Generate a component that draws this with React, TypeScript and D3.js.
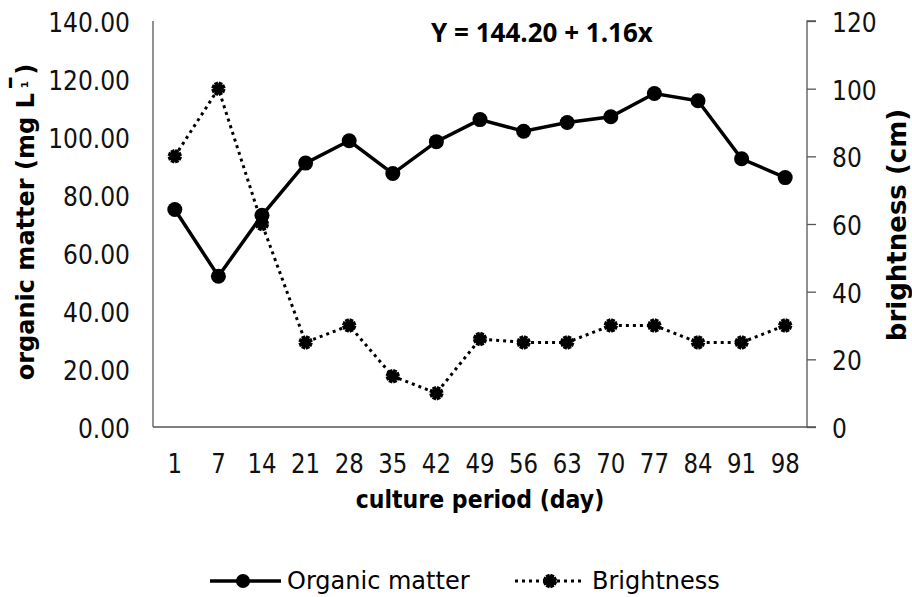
import React, { useEffect, useRef } from 'react';
import * as d3 from 'd3';

const days = ['1', '7', '14', '21', '28', '35', '42', '49', '56', '63', '70', '77', '84', '91', '98'];
const organicMatter = [75, 52, 73, 91, 98.7, 87.4, 98.4, 106, 102, 105, 107, 115, 112.5, 92.5, 86];
const brightness = [80, 100, 60, 25, 30, 15, 10, 26, 25, 25, 30, 30, 25, 25, 30];
const leftTicks = [0, 20, 40, 60, 80, 100, 120, 140];
const rightTicks = [0, 20, 40, 60, 80, 100, 120];
const equation = 'Y = 144.20 + 1.16x';

const App = () => {
  const ref = useRef<SVGSVGElement | null>(null);

  useEffect(() => {
    if (!ref.current) return;
    const width = 912, height = 597;
    const left = 153, right = 807, top = 21, bottom = 427;
    const font = 'DejaVu Sans, Verdana, sans-serif';
    const sx = 0.9; // glyphs in the source look a bit narrow

    const svg = d3.select(ref.current);
    svg.selectAll('*').remove();
    svg.attr('width', width).attr('height', height);
    svg.append('rect').attr('width', width).attr('height', height).attr('fill', '#fff');

    const x = d3.scaleBand().domain(days).range([left, right]).padding(0);
    const cx = (d: string) => (x(d) as number) + x.bandwidth() / 2;
    const yL = d3.scaleLinear().domain([0, 140]).range([bottom, top]);
    const yR = d3.scaleLinear().domain([0, 120]).range([bottom, top]);

    // left axis (no tick marks)
    svg.append('line')
      .attr('x1', left).attr('x2', left).attr('y1', top).attr('y2', bottom)
      .attr('stroke', '#555').attr('stroke-width', 1.3);
    svg.append('g').selectAll('text').data(leftTicks).enter().append('text')
      .attr('transform', d => `translate(130,${yL(d) + 11}) scale(${sx},1)`)
      .attr('text-anchor', 'end')
      .style('font-family', font).style('font-size', '26px').attr('fill', '#111')
      .text(d => d.toFixed(2));

    // bottom axis line
    svg.append('line')
      .attr('x1', left).attr('x2', right).attr('y1', bottom).attr('y2', bottom)
      .attr('stroke', '#555').attr('stroke-width', 1.3);
    svg.append('g').selectAll('text').data(days).enter().append('text')
      .attr('transform', d => `translate(${cx(d)},473) scale(0.88,1)`)
      .attr('text-anchor', 'middle')
      .style('font-family', font).style('font-size', '26px').attr('fill', '#111')
      .text(d => d);

    // right axis
    const rAxis = svg.append('g').attr('transform', `translate(${right},0)`)
      .call(d3.axisRight(yR).tickValues(rightTicks).tickSize(9).tickFormat(() => ''));
    rAxis.select('.domain').attr('stroke', '#555').attr('stroke-width', 1.3).attr('d', `M9,${top}H0V${bottom}H9`);
    rAxis.selectAll('.tick line').attr('stroke', '#555').attr('stroke-width', 1.3);
    svg.append('g').selectAll('text').data(rightTicks).enter().append('text')
      .attr('transform', d => `translate(832,${yR(d) + 11}) scale(${sx},1)`)
      .style('font-family', font).style('font-size', '26px').attr('fill', '#111')
      .text(d => String(d));

    // axis titles
    const leftTitle = svg.append('text')
      .attr('transform', `translate(34,222) rotate(-90)`)
      .attr('text-anchor', 'middle')
      .style('font-family', font).style('font-weight', 'bold').style('font-size', '24px');
    leftTitle.append('tspan').text('organic matter (mg L');
    leftTitle.append('tspan').attr('dx', 2).attr('dy', 1).style('font-size', '34px').text('\u00AF');
    leftTitle.append('tspan').attr('dx', -14).attr('dy', -1).style('font-size', '17px').text('\u00B9');
    leftTitle.append('tspan').attr('dx', 6).text(')');

    svg.append('text')
      .attr('transform', `translate(906,225) rotate(-90)`)
      .attr('text-anchor', 'middle')
      .style('font-family', font).style('font-weight', 'bold').style('font-size', '26px')
      .text('brightness (cm)');
    svg.append('text')
      .attr('transform', `translate(480,508) scale(0.92,1)`).attr('text-anchor', 'middle')
      .style('font-family', font).style('font-weight', 'bold').style('font-size', '24px')
      .text('culture period (day)');

    // equation
    svg.append('text')
      .attr('x', 542).attr('y', 42).attr('text-anchor', 'middle')
      .style('font-family', 'Open Sans, Liberation Sans, sans-serif').style('font-weight', 'bold').style('font-size', '26px')
      .text(equation);

    // brightness series (dotted, star markers)
    const lineB = d3.line<number>().x((_, i) => cx(days[i])).y(d => yR(d));
    svg.append('path').datum(brightness).attr('d', lineB)
      .attr('fill', 'none').attr('stroke', '#000').attr('stroke-width', 3)
      .attr('stroke-dasharray', '3 4');
    const star = (g: any) => {
      for (let k = 0; k < 4; k++) {
        const a = (k * Math.PI) / 4 + Math.PI / 8;
        g.append('line')
          .attr('x1', -7 * Math.cos(a)).attr('y1', -7 * Math.sin(a))
          .attr('x2', 7 * Math.cos(a)).attr('y2', 7 * Math.sin(a))
          .attr('stroke', '#000').attr('stroke-width', 4);
      }
      g.append('circle').attr('r', 5).attr('fill', '#000');
    };
    brightness.forEach((v, i) => {
      star(svg.append('g').attr('transform', `translate(${cx(days[i])},${yR(v)})`));
    });

    // organic matter series (solid, circle markers)
    const lineO = d3.line<number>().x((_, i) => cx(days[i])).y(d => yL(d));
    svg.append('path').datum(organicMatter).attr('d', lineO)
      .attr('fill', 'none').attr('stroke', '#000').attr('stroke-width', 3.5);
    svg.append('g').selectAll('circle').data(organicMatter).enter().append('circle')
      .attr('cx', (_, i) => cx(days[i])).attr('cy', d => yL(d)).attr('r', 7.5).attr('fill', '#000');

    // legend
    const ly = 581;
    const leg = svg.append('g');
    leg.append('line').attr('x1', 210).attr('x2', 281).attr('y1', ly).attr('y2', ly)
      .attr('stroke', '#000').attr('stroke-width', 3.5);
    leg.append('circle').attr('cx', 243).attr('cy', ly).attr('r', 7).attr('fill', '#000');
    leg.append('text').attr('x', 287).attr('y', 589)
      .style('font-family', font).style('font-size', '24px')
      .text('Organic matter');
    leg.append('line').attr('x1', 515).attr('x2', 585).attr('y1', ly).attr('y2', ly)
      .attr('stroke', '#000').attr('stroke-width', 3).attr('stroke-dasharray', '3 4');
    star(leg.append('g').attr('transform', `translate(550,${ly})`));
    leg.append('text').attr('x', 592).attr('y', 589)
      .style('font-family', font).style('font-size', '24px')
      .text('Brightness');
  }, []);

  return (
    <div style={{ position: 'absolute', left: 0, top: 0 }}>
      <svg ref={ref} />
    </div>
  );
};

export default App;
